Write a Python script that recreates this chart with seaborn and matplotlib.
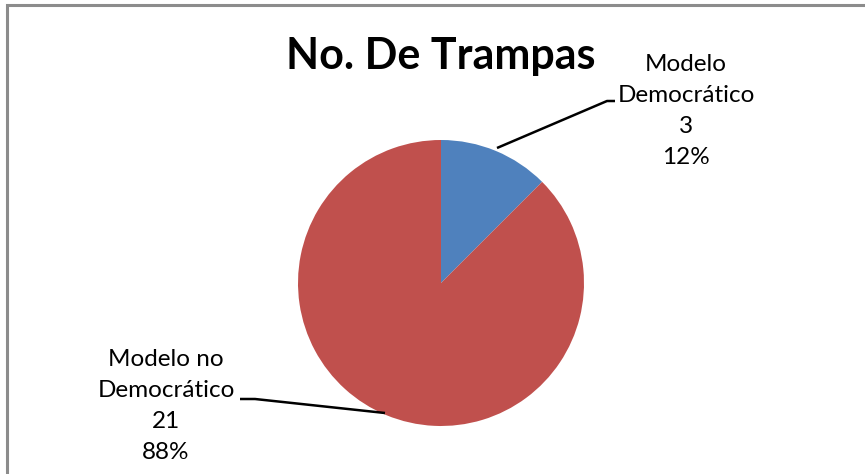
import matplotlib
matplotlib.use("Agg")
import matplotlib.pyplot as plt
import seaborn as sns
from matplotlib.patches import Rectangle

# Data
categories = ["Modelo Democrático", "Modelo no Democrático"]
label_lines = [["Modelo", "Democrático"], ["Modelo no", "Democrático"]]
values = [3, 21]
title = "No. De Trampas"

sns.set_theme(style="white")
plt.rcParams["font.family"] = ["Lato", "DejaVu Sans"]
colors = ["#4F81BD", "#C0504D"]

W, H = 865, 474
fig = plt.figure(figsize=(W / 100, H / 100), dpi=100)
fig.patch.set_facecolor("white")
ax = fig.add_axes([0, 0, 1, 1])
ax.set_xlim(0, W)
ax.set_ylim(0, H)
ax.set_aspect("equal")
ax.axis("off")

# Chart frame (runs off the right and bottom edges)
ax.add_patch(Rectangle((7, -20), W + 50, H - 5 + 20, fill=False,
                       edgecolor="#8c8c8c", linewidth=2.2))

cx, cy, r = 441, H - 283, 143
wedges, _ = ax.pie(values, colors=colors, startangle=90, counterclock=False,
                   center=(cx, cy), radius=r, frame=True,
                   wedgeprops=dict(linewidth=0))
ax.set_xlim(0, W)
ax.set_ylim(0, H)
ax.axis("off")

total = sum(values)
label_pos = [(686, H - 111), (166, H - 406)]
leaders = [
    [(497, H - 148), (607, H - 101), (615, H - 101)],
    [(385, H - 413), (255, H - 399), (240, H - 399)],
]
for lines, v, (tx, ty), pts in zip(label_lines, values, label_pos, leaders):
    pct = round(v / total * 100)
    txt = "\n".join(lines + [str(v), f"{pct}%"])
    ax.text(tx, ty, txt, ha="center", va="center", fontsize=17.5,
            linespacing=1.6, color="black")
    xs, ys = zip(*pts)
    ax.plot(xs, ys, color="black", linewidth=1.8, solid_capstyle="butt")

ax.text(441, H - 56, title, ha="center", va="center", fontsize=31,
        fontweight="bold", color="black")

fig.savefig("out.png", dpi=100)
